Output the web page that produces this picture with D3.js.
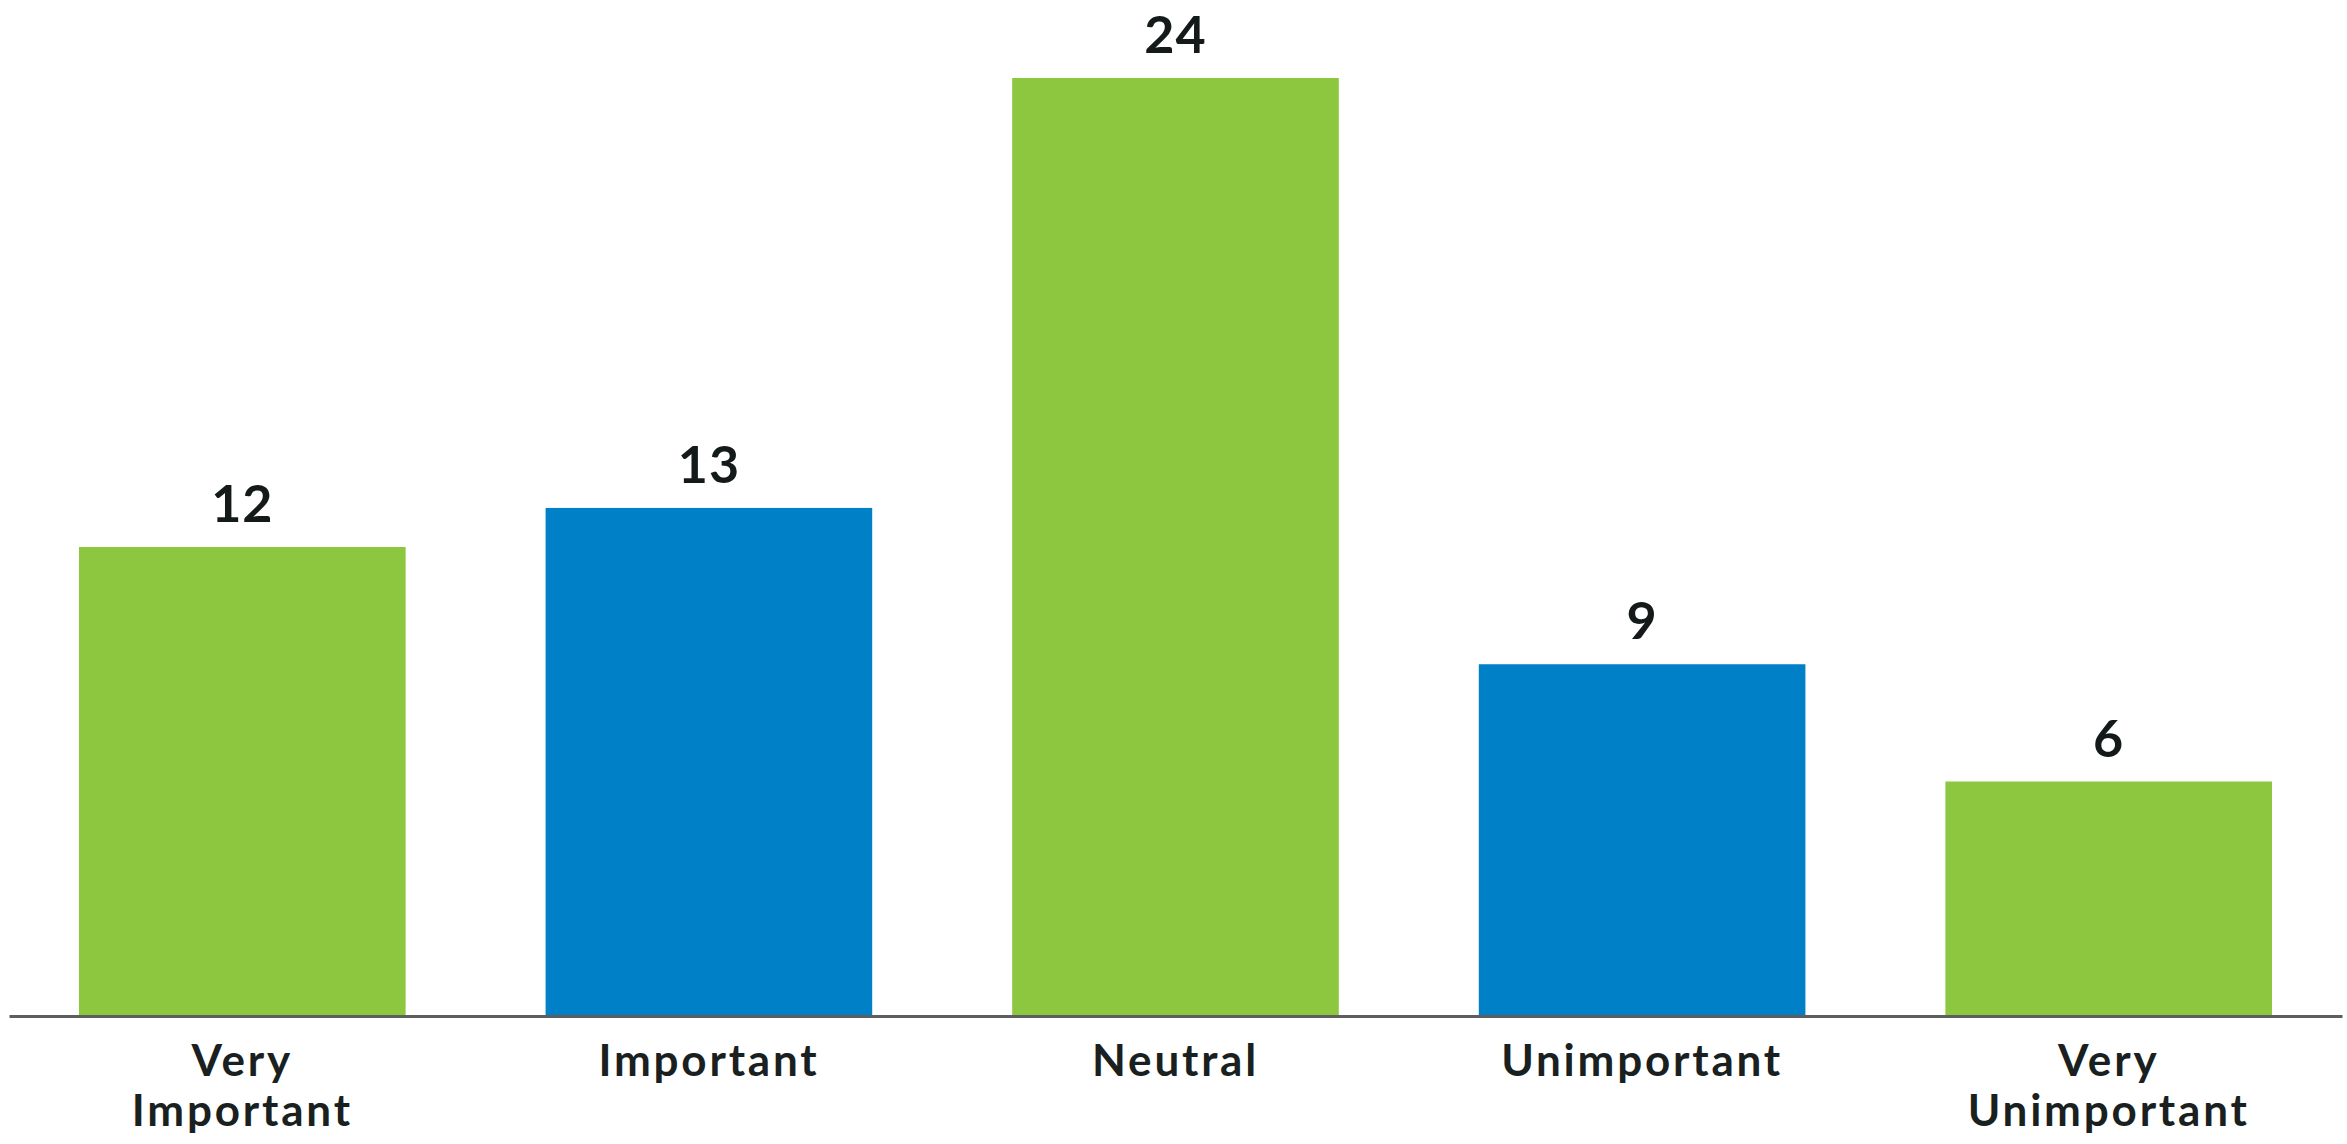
<!DOCTYPE html>
<html>
<head>
<meta charset="utf-8">
<script src="https://cdn.jsdelivr.net/npm/d3@7"></script>
<style>
  html, body { margin: 0; padding: 0; background: #fff; }
  svg { display: block; }
</style>
</head>
<body>
<script>
// chart data
var categories = ["Very Important", "Important", "Neutral", "Unimportant", "Very Unimportant"];
var values = [12, 13, 24, 9, 6];
var tickLines = [["Very", "Important"], ["Important"], ["Neutral"], ["Unimportant"], ["Very", "Unimportant"]];
var barColors = ["#8dc63f", "#0080c6", "#8dc63f", "#0080c6", "#8dc63f"];

var width = 2347, height = 1144;
var baseY = 1016;

var svg = d3.select("body")
            .append("svg")
            .attr("width", width)
            .attr("height", height);

var x = d3.scaleBand()
          .domain(categories)
          .range([9, 2342])
          .paddingInner(0.3)
          .paddingOuter(0.15);

var y = d3.scaleLinear()
          .domain([0, 24])
          .range([baseY, 78]);

// bars
svg.selectAll("rect.bar")
   .data(values)
   .enter()
   .append("rect")
   .attr("class", "bar")
   .attr("x", function(d, i) { return x(categories[i]); })
   .attr("y", function(d) { return y(d); })
   .attr("width", x.bandwidth())
   .attr("height", function(d) { return baseY - y(d); })
   .attr("fill", function(d, i) { return barColors[i]; });

// value labels above bars
svg.selectAll("text.value")
   .data(values)
   .enter()
   .append("text")
   .attr("class", "value")
   .attr("x", function(d, i) { return x(categories[i]) + x.bandwidth() / 2; })
   .attr("y", function(d) { return y(d) - 25; })
   .attr("text-anchor", "middle")
   .attr("font-family", "Lato, sans-serif")
   .attr("font-weight", "bold")
   .attr("font-size", 52)
   .attr("letter-spacing", 1)
   .attr("fill", "#141a1a")
   .text(function(d) { return d; });

// x axis, line only, labels written below
var axis = svg.append("g")
              .attr("transform", "translate(0," + baseY + ")")
              .call(d3.axisBottom(x).tickSize(0).tickSizeOuter(0).tickFormat(""));

axis.select(".domain")
    .attr("stroke", "#5e5e5e")
    .attr("stroke-width", 3);

axis.selectAll(".tick text").remove();

axis.selectAll(".tick")
    .append("text")
    .attr("text-anchor", "middle")
    .attr("font-family", "Lato, sans-serif")
    .attr("font-weight", "bold")
    .attr("font-size", 44)
    .attr("letter-spacing", 2.8)
    .attr("fill", "#1a1f1f")
    .each(function(d, i) {
      var t = d3.select(this);
      tickLines[i].forEach(function(line, j) {
        t.append("tspan")
         .attr("x", 0)
         .attr("y", 60 + j * 50)
         .text(line);
      });
    });
</script>
</body>
</html>
